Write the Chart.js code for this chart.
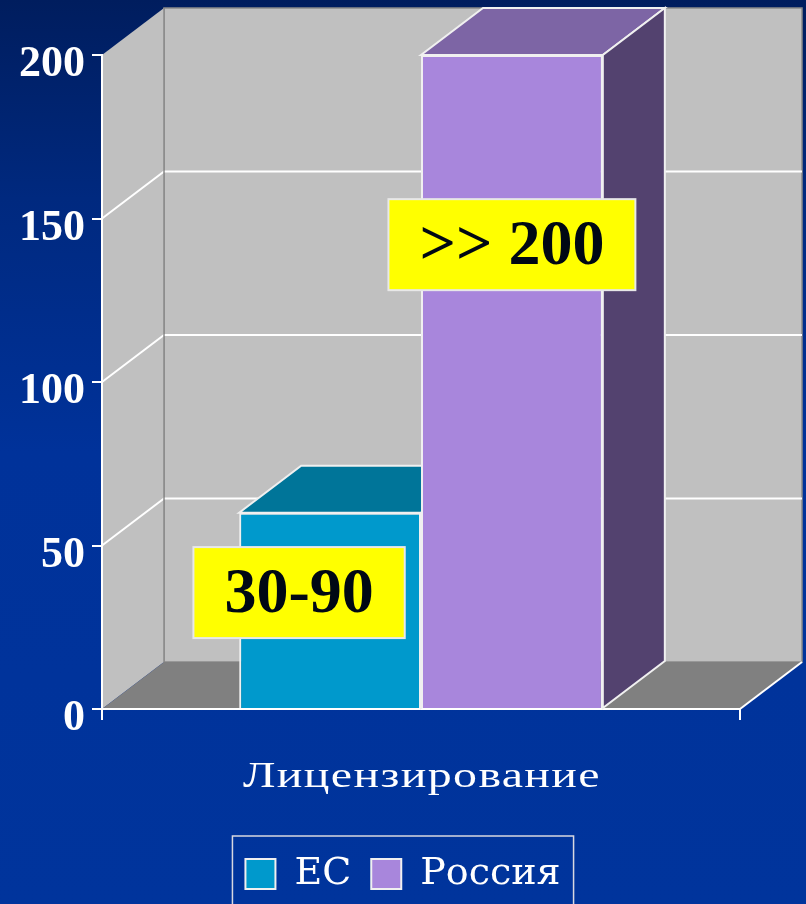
<!doctype html>
<html lang="ru">
<head>
  <meta charset="utf-8">
  <title>Лицензирование</title>
  <script src="https://cdn.jsdelivr.net/npm/chart.js@4/dist/chart.umd.min.js"></script>
  <style>
    body { margin: 0; }
    .grafico {
      width: 806px; height: 904px;
      background: linear-gradient(180deg, #001d5e 0%, #00297f 22%, #00329a 50%, #00349c 100%);
    }
  </style>
</head>
<body>
<div class="grafico"><canvas id="myChart"></canvas></div>

<script>
// data
var categories = ['Лицензирование'];
var seriesNames = ['ЕС', 'Россия'];
var valuesEC = [60];
var valuesRussia = [200];
var boxTexts = ['30-90', '>> 200'];
var yTicks = [0, 50, 100, 150, 200];

// depth of the fake 3d box
var DX = 62, DY = -47;

function poly(ctx, pts, fill, stroke, lw) {
  ctx.beginPath();
  ctx.moveTo(pts[0][0], pts[0][1]);
  for (var i = 1; i < pts.length; i++) ctx.lineTo(pts[i][0], pts[i][1]);
  ctx.closePath();
  if (fill) { ctx.fillStyle = fill; ctx.fill(); }
  if (stroke) { ctx.strokeStyle = stroke; ctx.lineWidth = lw || 1; ctx.stroke(); }
}
function line(ctx, pts, color, lw) {
  ctx.beginPath();
  ctx.moveTo(pts[0][0], pts[0][1]);
  for (var i = 1; i < pts.length; i++) ctx.lineTo(pts[i][0], pts[i][1]);
  ctx.strokeStyle = color; ctx.lineWidth = lw; ctx.stroke();
}

var walls = {
  id: 'walls',
  afterLayout: function(chart) {
    // center the legend on the whole slide, not on the padded area
    var lg = chart.legend, h = lg.height;
    lg.left = 0;
    lg.right = 806;
    lg.width = 806;
    lg.top = chart.chartArea.bottom + 126;
    lg.bottom = lg.top + h;
  },
  beforeDraw: function(chart) {
    var ctx = chart.ctx, a = chart.chartArea, ys = chart.scales.y;
    var L = a.left, R = a.right, T = a.top, B = a.bottom;
    ctx.save();
    poly(ctx, [[L+DX, T+DY], [R+DX, T+DY], [R+DX, B+DY], [L+DX, B+DY]], '#c0c0c0', '#8a8a8a', 1.5);
    poly(ctx, [[L, T], [L+DX, T+DY], [L+DX, B+DY], [L, B]], '#c0c0c0');
    poly(ctx, [[L, B], [L+DX, B+DY], [R+DX, B+DY], [R, B]], '#808080');
    yTicks.forEach(function(v) {
      if (v <= ys.min || v >= ys.max) return;
      var py = ys.getPixelForValue(v);
      line(ctx, [[L, py], [L+DX, py+DY], [R+DX, py+DY]], '#ffffff', 2);
    });
    line(ctx, [[L+DX, T+DY], [L+DX, B+DY]], '#8a8a8a', 1.5);
    line(ctx, [[R, B], [R+DX, B+DY]], '#ffffff', 2);
    ctx.restore();
  },
  beforeDatasetsDraw: function(chart) {
    var ctx = chart.ctx;
    ctx.save();
    chart.data.datasets.forEach(function(ds, i) {
      chart.getDatasetMeta(i).data.forEach(function(bar) {
        var p = bar.getProps(['x', 'y', 'base', 'width'], true);
        var l = p.x - p.width / 2, r = p.x + p.width / 2, t = p.y, b = p.base;
        poly(ctx, [[l, t], [r, t], [r+DX, t+DY], [l+DX, t+DY]], ds.topColor, '#f0f0f0', 2);
        poly(ctx, [[r, t], [r+DX, t+DY], [r+DX, b+DY], [r, b]], ds.sideColor, '#f0f0f0', 2);
      });
    });
    ctx.restore();
  },
  afterDatasetsDraw: function(chart, args, opts) {
    var ctx = chart.ctx, ys = chart.scales.y;
    ctx.save();
    ctx.font = 'bold 64px "Liberation Serif"';
    ctx.textAlign = 'center';
    ctx.textBaseline = 'middle';
    chart.data.datasets.forEach(function(ds, i) {
      var bar = chart.getDatasetMeta(i).data[0];
      var cx = bar.x + opts.shiftX[i];
      var cy = ys.getPixelForValue(opts.valueAt[i]);
      var w = ctx.measureText(boxTexts[i]).width + 2 * opts.padX;
      var h = opts.height;
      ctx.fillStyle = '#ffff00';
      ctx.fillRect(cx - w / 2, cy - h / 2, w, h);
      ctx.strokeStyle = '#e8e8e8';
      ctx.lineWidth = 2;
      ctx.strokeRect(cx - w / 2, cy - h / 2, w, h);
      ctx.fillStyle = '#000814';
      ctx.fillText(boxTexts[i], cx, cy + 3);
    });
    ctx.restore();
  },
  afterDraw: function(chart, args, opts) {
    var lg = chart.legend, ctx = chart.ctx, xs = chart.scales.x;
    ctx.save();
    // category label, a bit stretched like the slide font
    ctx.font = '35px "Liberation Serif"';
    ctx.letterSpacing = '1px';
    ctx.fillStyle = '#ffffff';
    ctx.textAlign = 'center';
    ctx.textBaseline = 'alphabetic';
    categories.forEach(function(c, i) {
      var w = ctx.measureText(c).width;
      ctx.save();
      ctx.translate(xs.getPixelForValue(i) + 1, chart.chartArea.bottom + opts.labelBaseline);
      ctx.scale(opts.labelWidth / w, 1);
      ctx.fillText(c, 0, 0);
      ctx.restore();
    });
    ctx.letterSpacing = '0px';
    // frame around the legend
    var pad = lg.options.labels.padding;
    var lw = lg.lineWidths[0];
    var start = (lg.left + pad + lg.right - lw) / 2;
    ctx.strokeStyle = '#d8d8e0';
    ctx.lineWidth = 1.5;
    ctx.strokeRect(start - 13, lg.top + 1, lw - pad + 26, 120);
    ctx.restore();
  }
};

var ctx = document.getElementById('myChart').getContext('2d');
var myChart = new Chart(ctx, {
  type: 'bar',
  data: {
    labels: categories,
    datasets: [{
      label: seriesNames[0],
      data: valuesEC,
      backgroundColor: '#0099cc',
      topColor: '#007599',
      sideColor: '#005f80',
      borderColor: '#f0f0f0',
      borderWidth: 2
    }, {
      label: seriesNames[1],
      data: valuesRussia,
      backgroundColor: '#a886dc',
      topColor: '#7d65a5',
      sideColor: '#53426f',
      borderColor: '#f0f0f0',
      borderWidth: 2
    }]
  },
  options: {
    responsive: true,
    maintainAspectRatio: false,
    animation: false,
    categoryPercentage: 0.57,
    barPercentage: 1.0,
    layout: { padding: { top: 55, right: 66, left: 0, bottom: 1 } },
    scales: {
      x: {
        grid: { drawOnChartArea: false, drawTicks: true, tickLength: 11, color: '#ffffff', lineWidth: 2 },
        border: { display: true, color: '#ffffff', width: 2 },
        ticks: { display: false },
        afterFit: function(axis) { axis.height = 126; }
      },
      y: {
        min: 0, max: 200,
        grid: { drawOnChartArea: false, drawTicks: true, tickLength: 10, color: '#ffffff', lineWidth: 2 },
        border: { display: true, color: '#ffffff', width: 2 },
        ticks: { stepSize: 50, color: '#ffffff', font: { family: '"Liberation Serif"', size: 44, weight: 'bold' }, padding: 7, labelOffset: 10 },
        afterFit: function(axis) { axis.width = 102; }
      }
    },
    plugins: {
      tooltip: { enabled: false },
      legend: {
        position: 'bottom',
        labels: { color: '#ffffff', boxWidth: 30, boxHeight: 30, padding: 20, font: { family: '"DejaVu Serif"', size: 38 } }
      },
      walls: { valueAt: [35.6, 142], shiftX: [-31, 0], padX: 31, height: 91, labelWidth: 358, labelBaseline: 78 }
    }
  },
  plugins: [walls]
});
</script>
</body>
</html>
